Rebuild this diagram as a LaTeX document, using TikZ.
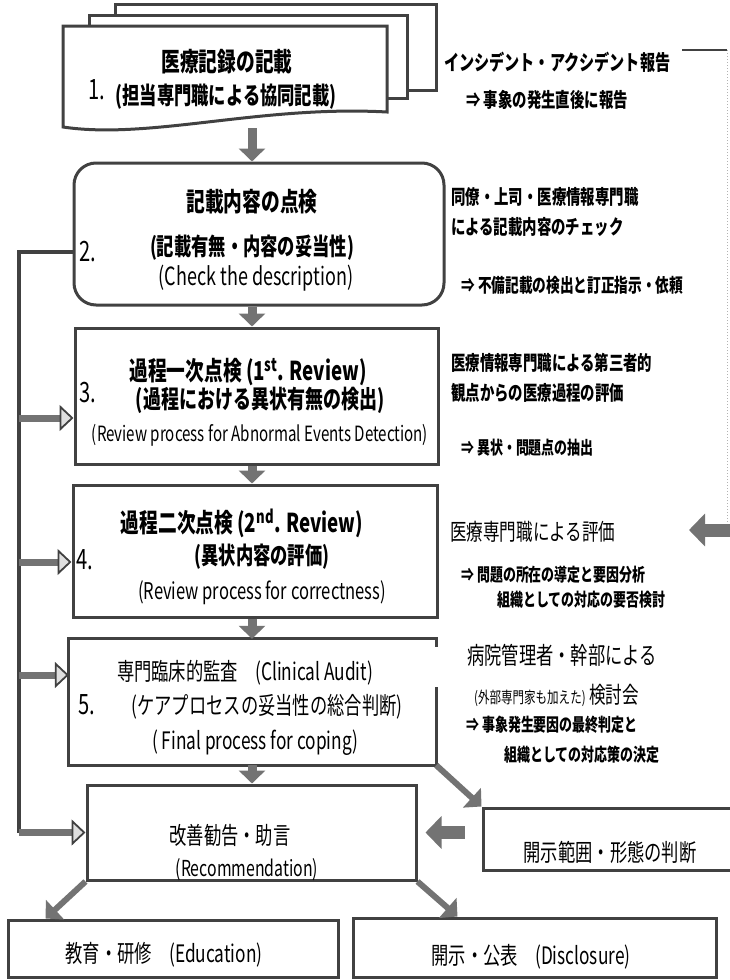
\documentclass[tikz,border=0pt]{standalone}
\usepackage{fontspec}
\newfontfamily\jp[FakeStretch=0.72]{Noto Sans CJK JP}
\usetikzlibrary{arrows.meta,calc}
\definecolor{framecol}{RGB}{65,65,65}
\definecolor{arrowcol}{RGB}{115,115,115}
\newcommand{\fsz}[1]{\fontsize{#1}{#1}\selectfont}

\begin{document}
\begin{tikzpicture}[x=1pt,y=-1pt,
   frame/.style={draw=framecol,line width=3pt},
   box/.style={frame,fill=white,inner sep=0pt},
   flow/.style={arrowcol,line width=9pt,-{Triangle[length=13pt,width=26pt]}},
   feed/.style={arrowcol,line width=7pt,
     -{Triangle[open,color=framecol,fill=gray!25,length=14pt,width=26pt,line width=1.8pt]}},
   bigflow/.style={arrowcol,line width=13pt,-{Triangle[length=16pt,width=32pt]}},
   txt/.style={inner sep=0pt,font=\jp\fsz{24}},
   note/.style={txt,anchor=west},
   num/.style={txt,font=\jp\fsz{28}}]
  \useasboundingbox (0,0) rectangle (729,980);

  % 1. stacked documents
  \draw[frame,fill=white] (115,4) rectangle (436,90);
  \draw[frame,fill=white] (89,15) rectangle (407,98);
  \draw[frame,fill=white] (63,127) -- (63,26) -- (387,26) -- (387,112)
     .. controls (260,105) and (150,140) .. cycle;
  \coordinate (b1s) at (252,128);
  \node[txt,font=\jp\bfseries\fsz{26}] (t1a) at (227,62) {医療記録の記載};
  \node[num] (n1) at (97,90) {1.};
  \node[txt,font=\jp\bfseries\fsz{24}] (t1b) at (226,97) {(担当専門職による協同記載)};

  % boxes of the main column
  \node[box,rounded corners=22pt,minimum width=370pt,minimum height=142pt] (b2) at (259,234) {};
  \node[box,minimum width=363pt,minimum height=136pt] (b3) at (256.5,396) {};
  \node[box,minimum width=364pt,minimum height=132pt] (b4) at (255,551) {};
  \node[fill=white,inner sep=0pt,minimum width=367pt,minimum height=126pt] (b5) at (252.5,702) {};
  \draw[frame] ($(b5.north east)+(0,8)$) -- (b5.north east) -- (b5.north west)
     -- (b5.south west) -- (b5.south east) -- ($(b5.north east)+(0,48)$);
  \node[box,minimum width=329pt,minimum height=95pt] (rec) at (251.5,832.5) {};
  \node[box,minimum width=330pt,minimum height=57pt] (edu) at (173,948.5) {};
  \node[box,minimum width=363pt,minimum height=59pt] (dis) at (534.5,947.5) {};
  \node[box,minimum width=257pt,minimum height=62pt] (rng) at (611.5,839) {};

  % texts in the boxes
  \node[txt,font=\jp\bfseries\fsz{26}] (t2a) at (252,202) {記載内容の点検};
  \node[num] (n2) at (88,252) {2.};
  \node[txt,font=\jp\bfseries\fsz{24}] (t2b) at (252,248) {(記載有無・内容の妥当性)};
  \node[txt,font=\jp\fsz{25}] (t2c) at (256,278) {(Check the description)};

  \node[txt,font=\jp\bfseries\fsz{26}] (t3a) at (248,372) {過程一次点検 (1\textsuperscript{st}. Review)};
  \node[num] (n3) at (88,393) {3.};
  \node[txt,font=\jp\bfseries\fsz{25}] (t3b) at (260,400) {(過程における異状有無の検出)};
  \node[txt,font=\jp\fsz{21}] (t3c) at (260,435) {(Review process for Abnormal Events Detection)};

  \node[txt,font=\jp\bfseries\fsz{26}] (t4a) at (242,523) {過程二次点検 (2\textsuperscript{nd}. Review)};
  \node[num] (n4) at (85,560) {4.};
  \node[txt,font=\jp\bfseries\fsz{24}] (t4b) at (262,557) {(異状内容の評価)};
  \node[txt,font=\jp\fsz{23}] (t4c) at (262,593) {(Review process for correctness)};

  \node[txt,font=\jp\fsz{24}] (t5a) at (245,673) {専門臨床的監査　(Clinical Audit)};
  \node[num] (n5) at (87,705) {5.};
  \node[txt,font=\jp\fsz{24}] (t5b) at (267,707) {(ケアプロセスの妥当性の総合判断)};
  \node[txt,font=\jp\fsz{24}] (t5c) at (255,743) {( Final process for coping)};

  \node[txt,font=\jp\fsz{24}] (tr1) at (230,835) {改善勧告・助言};
  \node[txt,font=\jp\fsz{22}] (tr2) at (247,870) {(Recommendation)};
  \node[txt] (te) at (164,955) {教育・研修　(Education)};
  \node[txt] (td) at (531,957) {開示・公表　(Disclosure)};
  \node[txt] (tg) at (610,852) {開示範囲・形態の判断};

  % notes on the right
  \node[note,font=\jp\bfseries\fsz{21}] (m1) at (444,62) {インシデント・アクシデント報告};
  \node[note,font=\jp\bfseries\fsz{20}] (m1b) at (466,100) {⇒ 事象の発生直後に報告};
  \node[note,font=\jp\bfseries\fsz{20}] (m2) at (451,197) {同僚・上司・医療情報専門職};
  \node[note,font=\jp\bfseries\fsz{20}] (m2b) at (451,227) {による記載内容のチェック};
  \node[note,font=\jp\bfseries\fsz{19}] (m2c) at (461,285) {⇒ 不備記載の検出と訂正指示・依頼};
  \node[note,font=\jp\bfseries\fsz{20}] (m3) at (451,363) {医療情報専門職による第三者的};
  \node[note,font=\jp\bfseries\fsz{20}] (m3b) at (451,393) {観点からの医療過程の評価};
  \node[note,font=\jp\bfseries\fsz{18}] (m3c) at (461,448) {⇒ 異状・問題点の抽出};
  \node[note,font=\jp\fsz{23}] (m4) at (450,532) {医療専門職による評価};
  \node[note,font=\jp\bfseries\fsz{18}] (m4b) at (461,575) {⇒ 問題の所在の導定と要因分析};
  \node[note,font=\jp\bfseries\fsz{18}] (m4c) at (497,600) {組織としての対応の要否検討};
  \node[note,font=\jp\fsz{24}] (m5) at (467,655) {病院管理者・幹部による};
  \node[note,font=\jp\fsz{23}] (m5b) at (474,695) {{\fsz{16}(外部専門家も加えた)} 検討会};
  \node[note,font=\jp\bfseries\fsz{18}] (m5c) at (466,725) {⇒ 事象発生要因の最終判定と};
  \node[note,font=\jp\bfseries\fsz{18}] (m5d) at (504,755) {組織としての対応策の決定};

  % main column flow
  \draw[flow] (b1s) -- (b2.north -| b1s);
  \foreach \a/\b in {b2/b3,b3/b4,b4/b5,b5/rec}
    \draw[flow] (\a.south -| b1s) -- (\b.north -| b1s);

  % feedback bus on the left
  \coordinate (bus) at (19,0);
  \coordinate (out2) at ($(b2.west)+(0,18)$);
  \draw[framecol,line width=3.5pt] (out2) -- (out2 -| bus) -- (bus |- rec.west);
  \foreach \b/\dy in {b3/22,b4/11,b5/-27}{
    \coordinate (in\b) at ($(\b.west)+(0,\dy)$);
    \draw[feed] (in\b -| bus) -- (in\b);
  }
  \draw[feed] (bus |- rec.west) -- (rec.west);

  % report line on the right
  \coordinate (rtop) at (682,50);
  \coordinate (rcorner) at (727,50);
  \coordinate (rin) at (689,530);
  \coordinate (rend) at (735,530);
  \draw[framecol,line width=2.5pt] (rtop) -- (rcorner);
  \draw[gray!60,line width=1pt,dotted] (rcorner) -- (rcorner |- rin);
  \draw[bigflow] (rend) -- (rin);

  % disclosure decision
  \draw[flow,line width=6pt] (b5.south east) -- (rng.north west);
  \draw[bigflow,shorten <=17pt,shorten >=8pt] (rng.west |- rec.east) -- (rec.east);

  % outputs
  \draw[flow,line width=6pt] (rec.south west) -- ($(edu.north west)+(39,0)$);
  \draw[flow,line width=6pt] (rec.south east) -- ($(dis.north west)+(106,0)$);
\end{tikzpicture}
\end{document}
